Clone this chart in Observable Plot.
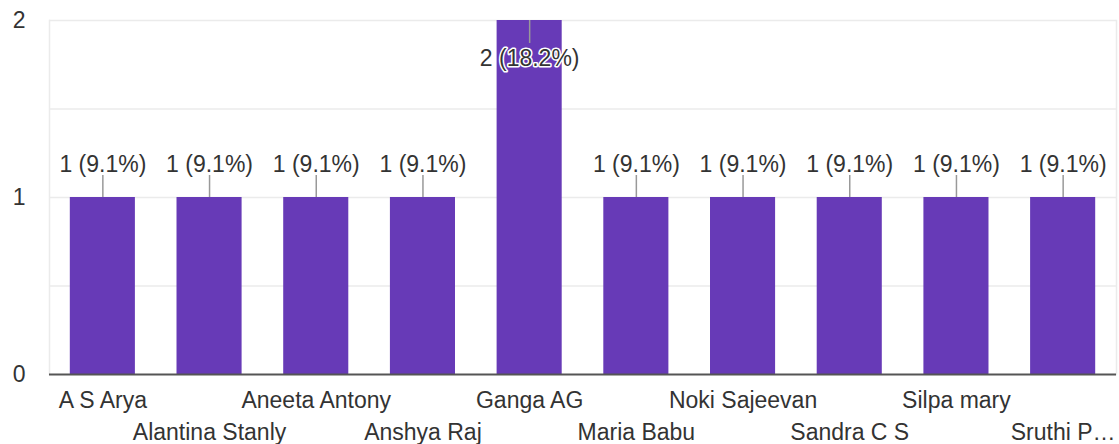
<!DOCTYPE html>
<html>
<head>
<meta charset="utf-8">
<script src="https://cdn.jsdelivr.net/npm/d3@7"></script>
<script src="https://cdn.jsdelivr.net/npm/@observablehq/plot@0.6"></script>
<style>
  html, body { margin: 0; padding: 0; background: #fff; }
  #chart svg { display: block; }
</style>
</head>
<body>
<div id="chart"></div>
<script>
const names = ["A S Arya", "Alantina Stanly", "Aneeta Antony", "Anshya Raj", "Ganga AG",
  "Maria Babu", "Noki Sajeevan", "Sandra C S", "Silpa mary", "Sruthi P\u2026"];
const counts = [1, 1, 1, 1, 2, 1, 1, 1, 1, 1];
const percents = ["9.1%", "9.1%", "9.1%", "9.1%", "18.2%", "9.1%", "9.1%", "9.1%", "9.1%", "9.1%"];
const yTicks = [0, 1, 2];
const gridValues = [0.5, 1, 1.5, 2];

const data = names.map((name, i) => ({
  name, value: counts[i], label: `${counts[i]} (${percents[i]})`, row: i % 2
}));
const yMax = d3.max(counts);
const above = data.filter(d => d.value < yMax);
const inside = data.filter(d => d.value >= yMax);

const font = "Liberation Sans, Arial, sans-serif";

const chart = Plot.plot({
  width: 1119,
  height: 444,
  marginLeft: 49,
  marginRight: 3,
  marginTop: 20,
  marginBottom: 70,
  style: { fontFamily: font, fontSize: "23px", color: "#333", background: "#fff" },
  x: { domain: names, paddingInner: 0.39, paddingOuter: 0.195, round: false, axis: null },
  y: { domain: [0, 2], ticks: yTicks, axis: null },
  marks: [
    Plot.ruleY(gridValues, { stroke: "#ebebeb", strokeWidth: 1.5 }),
    Plot.frame({ anchor: "left", stroke: "#ebebeb", strokeWidth: 1.5 }),
    Plot.frame({ anchor: "right", stroke: "#ebebeb", strokeWidth: 1.5 }),
    Plot.barY(data, { x: "name", y: "value", fill: "#673ab7" }),
    Plot.ruleY([0], { stroke: "#555", strokeWidth: 2 }),
    Plot.axisY(yTicks, { tickSize: 0, tickPadding: 24, textAnchor: "end", fontSize: 23, fill: "#333", label: null, tickFormat: d3.format("d") }),
    // annotation leader lines
    Plot.ruleX(above, { x: "name", y1: "value", y2: "value", insetTop: -22, stroke: "#999", strokeWidth: 1.5 }),
    Plot.ruleX(inside, { x: "name", y1: "value", y2: "value", insetBottom: -23, stroke: "#999", strokeWidth: 1.5 }),
    // annotation labels
    Plot.text(above, { x: "name", y: "value", text: "label", dy: -33, fontSize: 23, fill: "#333", stroke: "#fff", strokeWidth: 3 }),
    Plot.text(inside, { x: "name", y: "value", text: "label", dy: 38, fontSize: 23, fill: "#333", stroke: "#fff", strokeWidth: 3 }),
    // staggered category labels
    Plot.text(data.filter(d => d.row === 0), { x: "name", text: "name", frameAnchor: "bottom", lineAnchor: "middle", dy: 26, fontSize: 23, fill: "#333" }),
    Plot.text(data.filter(d => d.row === 1), { x: "name", text: "name", frameAnchor: "bottom", lineAnchor: "middle", dy: 58, fontSize: 23, fill: "#333" })
  ]
});
document.getElementById("chart").appendChild(chart);
</script>
</body>
</html>
